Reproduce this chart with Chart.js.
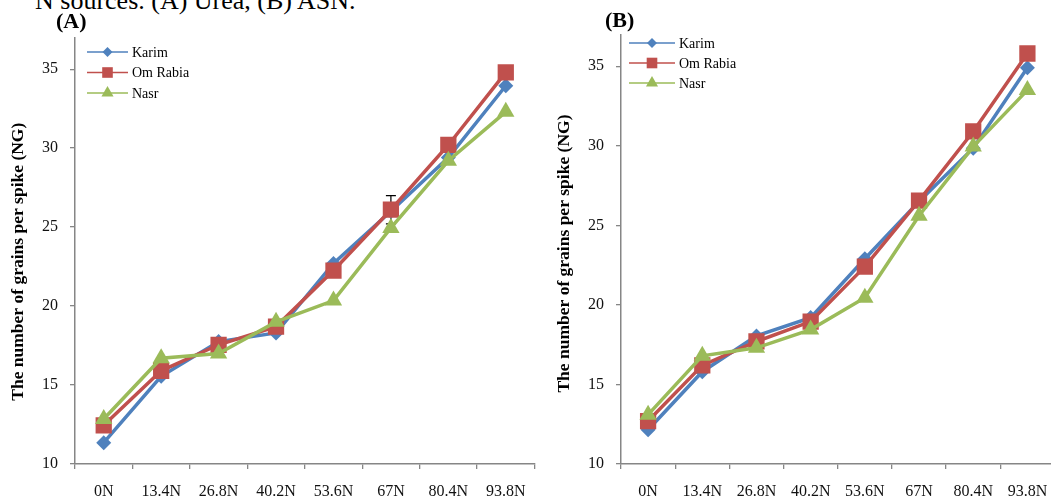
<!DOCTYPE html>
<html><head><meta charset="utf-8">
<script src="https://cdn.jsdelivr.net/npm/chart.js@4.4.1/dist/chart.umd.min.js"></script>
<style>
html,body{margin:0;padding:0;width:1051px;height:504px;overflow:hidden;background:#fff;}
.wrap{position:absolute;top:0;height:504px;}
#wa{left:0;width:546px;}
#wb{left:546px;width:520px;}
.cap{position:absolute;left:35px;top:-12px;font-family:"Liberation Serif";font-size:26px;line-height:26px;white-space:nowrap;color:#000;}
.lbl{position:absolute;font-family:"Liberation Serif";font-weight:bold;font-size:22px;line-height:22px;color:#000;}
</style></head>
<body>
<div class="cap">N sources. (A) Urea, (B) ASN.</div>
<div class="wrap" id="wa"><canvas id="ca" width="546" height="504"></canvas></div>
<div class="wrap" id="wb"><canvas id="cb" width="520" height="504"></canvas></div>
<div class="lbl" style="left:56px;top:10px">(A)</div>
<div class="lbl" style="left:605px;top:9px">(B)</div>
<script>
const categories = ['0N','13.4N','26.8N','40.2N','53.6N','67N','80.4N','93.8N'];
const seriesNames = ['Karim','Om Rabia','Nasr'];
const yTicks = [10,15,20,25,30,35];
const yTitle = 'The number of grains per spike (NG)';
// (A) Urea
const karimA   = [11.35,15.55,17.75,18.30,22.70,26.00,29.40,33.95];
const omRabiaA = [12.45,15.90,17.55,18.70,22.25,26.10,30.20,34.80];
const nasrA    = [12.85,16.70,17.00,19.00,20.35,24.95,29.20,32.30];
const omRabiaErrA = [0,0,0,0,0,0.9,0,0];
// (B) ASN
const karimB   = [12.15,15.80,18.05,19.20,22.90,26.50,29.85,34.90];
const omRabiaB = [12.70,16.20,17.70,18.95,22.40,26.55,30.90,35.80];
const nasrB    = [13.10,16.80,17.30,18.45,20.45,25.60,29.95,33.50];

const colors = ['#4F81BD','#C0504D','#9BBB59'];
const styles = ['rectRot','rect','triangle'];
const radii = [7.5,11.5,10];
const legendRadii = [5,7.5,7];
const serif = '"Liberation Serif", "Times New Roman", serif';

const legendPlugin = {
  id:'seriesLegend',
  afterDatasetsDraw(chart, args, opts){
    const ctx = chart.ctx;
    ctx.save();
    chart.data.datasets.forEach((ds,i)=>{
      const y = opts.y + i*opts.gap;
      const x0 = opts.x, x1 = opts.x + opts.len;
      ctx.strokeStyle = ds.borderColor; ctx.lineWidth = 1.5;
      ctx.beginPath(); ctx.moveTo(x0,y); ctx.lineTo(x1,y); ctx.stroke();
      ctx.fillStyle = ds.borderColor;
      Chart.helpers.drawPoint(ctx,{pointStyle:ds.pointStyle,rotation:0,radius:legendRadii[i],borderWidth:0},(x0+x1)/2,y);
      ctx.fillStyle = '#000';
      ctx.font = '14px ' + serif;
      ctx.textBaseline = 'middle';
      ctx.textAlign = 'left';
      ctx.fillText(ds.label, x1+4, y+1);
    });
    ctx.restore();
  }
};

const errPlugin = {
  id:'errBars',
  beforeDatasetsDraw(chart, args, opts){
    if(!opts.errors) return;
    const ctx = chart.ctx;
    const meta = chart.getDatasetMeta(opts.datasetIndex);
    const ds = chart.data.datasets[opts.datasetIndex];
    const ys = chart.scales.y;
    ctx.save();
    ctx.strokeStyle = '#000'; ctx.lineWidth = 1.2;
    opts.errors.forEach((e,j)=>{
      if(!e) return;
      const x = meta.data[j].x;
      const yt = ys.getPixelForValue(ds.data[j]+e), yb = ys.getPixelForValue(ds.data[j]-e);
      ctx.beginPath();
      ctx.moveTo(x,yt); ctx.lineTo(x,yb);
      ctx.moveTo(x-5,yt); ctx.lineTo(x+5,yt);
      ctx.moveTo(x-5,yb); ctx.lineTo(x+5,yb);
      ctx.stroke();
    });
    ctx.restore();
  }
};

function makeChart(id, series, padTop, padRight, legendPos, errors, titleShift){
  const datasets = series.map((d,i)=>({
    label: seriesNames[i], data: d,
    borderColor: colors[i], backgroundColor: colors[i],
    pointBackgroundColor: colors[i], pointBorderColor: colors[i],
    pointStyle: styles[i], pointRadius: radii[i], pointBorderWidth: 0,
    borderWidth: 3.5, tension: 0, order: 2 - i
  }));
  return new Chart(document.getElementById(id), {
    type:'line',
    data:{labels:categories, datasets},
    plugins:[errPlugin, legendPlugin],
    options:{
      responsive:false, animation:false,
      layout:{padding:{top:padTop,right:padRight,left:0,bottom:0}},
      plugins:{
        legend:{display:false}, tooltip:{enabled:false},
        seriesLegend: legendPos,
        errBars: errors ? {datasetIndex:1, errors} : {}
      },
      scales:{
        x:{
          offset:true,
          grid:{offset:true, drawOnChartArea:false, tickLength:5, color:'#868686', lineWidth:1.3},
          border:{display:true, color:'#868686', width:1.5},
          ticks:{font:{family:serif,size:16}, color:'#111', padding:13, maxRotation:0, autoSkip:false},
          afterFit(s){ s.height = 40; }
        },
        y:{
          min:10, max:37,
          afterBuildTicks(s){ s.ticks = yTicks.map(v=>({value:v})); },
          grid:{drawOnChartArea:false, tickLength:5, color:'#868686', lineWidth:1.3},
          border:{display:true, color:'#868686', width:1.5},
          ticks:{font:{family:serif,size:16}, color:'#111', padding:12},
          title:{display:true, text:yTitle + '\u00A0'.repeat(titleShift), font:{family:serif,size:17.5,weight:'bold'}, color:'#000', padding:{top:7.5,bottom:0}},
          afterFit(s){ s.width = 75; }
        }
      }
    }
  });
}

makeChart('ca', [karimA, omRabiaA, nasrA], 37.6, 9.4, {x:87, y:52, gap:20.5, len:41}, omRabiaErrA, 5);
makeChart('cb', [karimB, omRabiaB, nasrB], 34.4, 8, {x:83, y:43, gap:20, len:46}, null, 2);
</script>
</body></html>
